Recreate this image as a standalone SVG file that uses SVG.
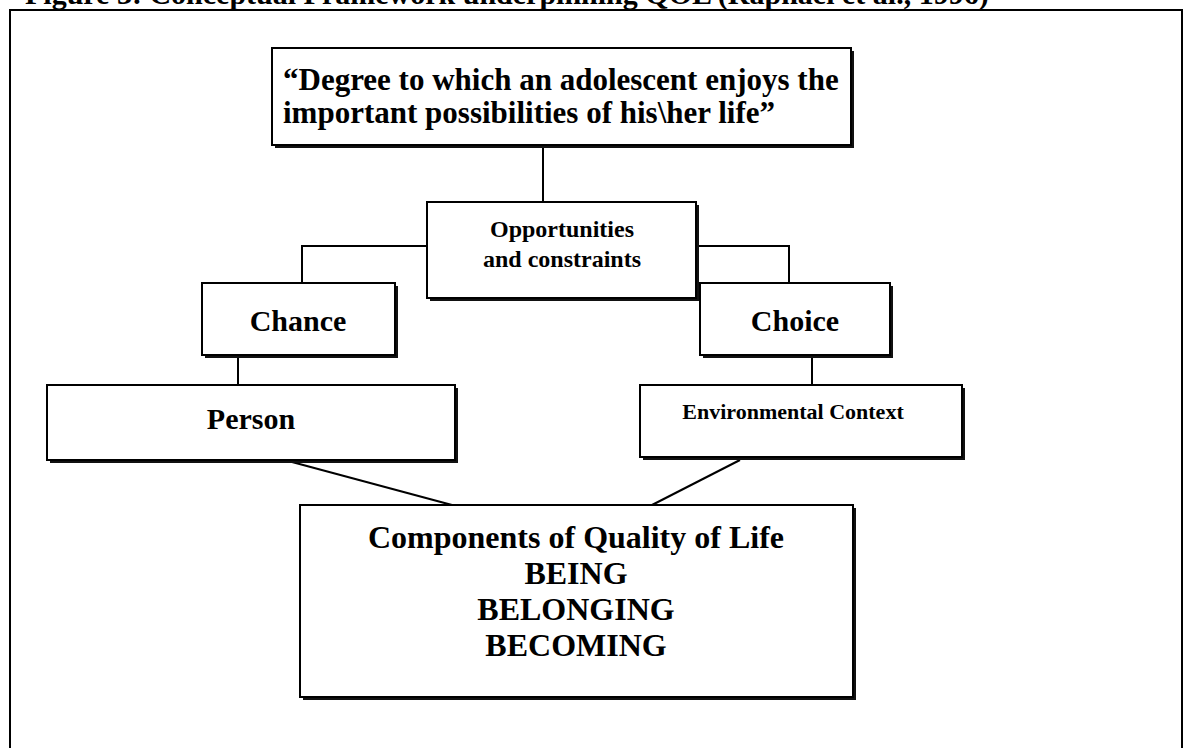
<svg xmlns="http://www.w3.org/2000/svg" width="1190" height="748" viewBox="0 0 1190 748">
  <style>
    .frame { fill: none; stroke: #000; stroke-width: 2; }
    .shadow { fill: #111; }
    .box { fill: #fff; stroke: #000; stroke-width: 2; }
    .wire { fill: none; stroke: #000; stroke-width: 2; }
    text { font-family: "Liberation Serif", "Times New Roman", serif; font-weight: bold; fill: #000; }
    .mid { text-anchor: middle; }
  </style>
  <rect width="1190" height="748" fill="#fff"/>

  <!-- caption, clipped by the top of the page -->
  <text x="25" y="4" font-size="30">Figure 3: Conceptual Framework underpinning QOL (Raphael et al., 1996)</text>

  <!-- outer frame -->
  <rect class="frame" x="10" y="10" width="1172" height="760"/>

  <!-- connectors -->
  <g id="connectors">
    <line class="wire" x1="543" y1="146" x2="543" y2="202"/>
    <polyline class="wire" points="427,246 302,246 302,283"/>
    <polyline class="wire" points="699,246 789,246 789,283"/>
    <line class="wire" x1="238" y1="358" x2="238" y2="385"/>
    <line class="wire" x1="812" y1="358" x2="812" y2="385"/>
    <line class="wire" x1="292" y1="462" x2="452" y2="505"/>
    <line class="wire" x1="740" y1="460" x2="652" y2="505"/>
  </g>

  <g id="definition">
    <rect class="shadow" x="275" y="51" width="579" height="97"/>
    <rect class="box" x="272" y="48" width="579" height="97"/>
    <text x="283" y="90" font-size="31">“Degree to which an adolescent enjoys the</text>
    <text x="283" y="123" font-size="31">important possibilities of his\her life”</text>
  </g>

  <g id="opportunities">
    <rect class="shadow" x="430" y="205" width="269" height="96"/>
    <rect class="box" x="427" y="202" width="269" height="96"/>
    <text class="mid" x="562" y="237" font-size="24">Opportunities</text>
    <text class="mid" x="562" y="267" font-size="24">and constraints</text>
  </g>

  <g id="chance">
    <rect class="shadow" x="205" y="286" width="193" height="72"/>
    <rect class="box" x="202" y="283" width="193" height="72"/>
    <text class="mid" x="298" y="331" font-size="30">Chance</text>
  </g>

  <g id="choice">
    <rect class="shadow" x="703" y="286" width="190" height="72"/>
    <rect class="box" x="700" y="283" width="190" height="72"/>
    <text class="mid" x="795" y="331" font-size="30">Choice</text>
  </g>

  <g id="person">
    <rect class="shadow" x="50" y="388" width="408" height="75"/>
    <rect class="box" x="47" y="385" width="408" height="75"/>
    <text class="mid" x="251" y="429" font-size="30">Person</text>
  </g>

  <g id="environment">
    <rect class="shadow" x="643" y="388" width="322" height="72"/>
    <rect class="box" x="640" y="385" width="322" height="72"/>
    <text class="mid" x="793" y="419" font-size="22">Environmental Context</text>
  </g>

  <g id="components">
    <rect class="shadow" x="303" y="508" width="553" height="192"/>
    <rect class="box" x="300" y="505" width="553" height="192"/>
    <text class="mid" x="576" y="548" font-size="32">Components of Quality of Life</text>
    <text class="mid" x="576" y="584" font-size="32">BEING</text>
    <text class="mid" x="576" y="620" font-size="32">BELONGING</text>
    <text class="mid" x="576" y="656" font-size="32">BECOMING</text>
  </g>
</svg>
